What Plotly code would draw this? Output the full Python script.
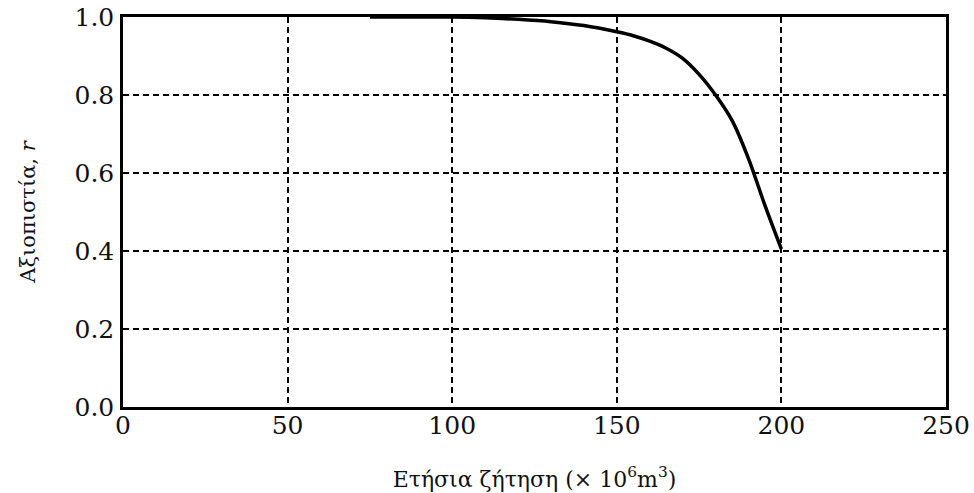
import plotly.graph_objects as go

demand = [75, 90, 100, 110, 120, 130, 140, 150, 155, 160, 165, 170, 175, 180, 185, 190, 195, 200]
reliability = [1.0, 1.0, 1.0, 0.998, 0.994, 0.988, 0.978, 0.962, 0.952, 0.938, 0.92, 0.894,
               0.853, 0.80, 0.735, 0.637, 0.517, 0.405]

x_ticks = [0, 50, 100, 150, 200, 250]
y_ticks = [0.0, 0.2, 0.4, 0.6, 0.8, 1.0]
y_tick_labels = ["0.0", "0.2", "0.4", "0.6", "0.8", "1.0"]

x_title = "Ετήσια ζήτηση (× 10<sup>6</sup>m<sup>3</sup>)"
y_title = "Αξιοπιστία, <i>r</i>"

FONT = "DejaVu Serif"

fig = go.Figure()
fig.add_trace(go.Scatter(
    x=demand, y=reliability, mode="lines",
    line=dict(color="black", width=3.5, shape="spline", smoothing=1.0),
    showlegend=False, hoverinfo="skip",
))

fig.update_layout(
    width=974, height=493,
    margin=dict(l=123, r=28, t=17, b=86, autoexpand=False),
    paper_bgcolor="white", plot_bgcolor="white",
    font=dict(family=FONT, color="#111"),
)

fig.update_xaxes(
    range=[0, 250], tickvals=x_ticks, automargin=False, ticklabeloverflow="allow",
    showgrid=True, gridcolor="black", gridwidth=1.5, griddash="6px,4px",
    showline=True, linecolor="black", linewidth=2.5, mirror=True,
    zeroline=False, ticks="", ticklabelstandoff=-6,
    tickfont=dict(family=FONT, size=25, color="#111"),
    title=dict(text=x_title, font=dict(family=FONT, size=22, color="#111"), standoff=33),
)
fig.update_yaxes(
    range=[0, 1.0], tickvals=y_ticks, ticktext=y_tick_labels, automargin=False,
    ticklabeloverflow="allow",
    showgrid=True, gridcolor="black", gridwidth=1.5, griddash="6px,4px",
    showline=True, linecolor="black", linewidth=2.5, mirror=True,
    zeroline=False, ticks="", ticklabelstandoff=1,
    tickfont=dict(family=FONT, size=25, color="#111"),
    title=dict(text=y_title, font=dict(family=FONT, size=21, color="#111"), standoff=34),
)

fig.write_html(
    "out.html",
    config={"displayModeBar": False},
    post_script="document.body.style.margin='0';document.body.style.overflow='hidden';",
)
